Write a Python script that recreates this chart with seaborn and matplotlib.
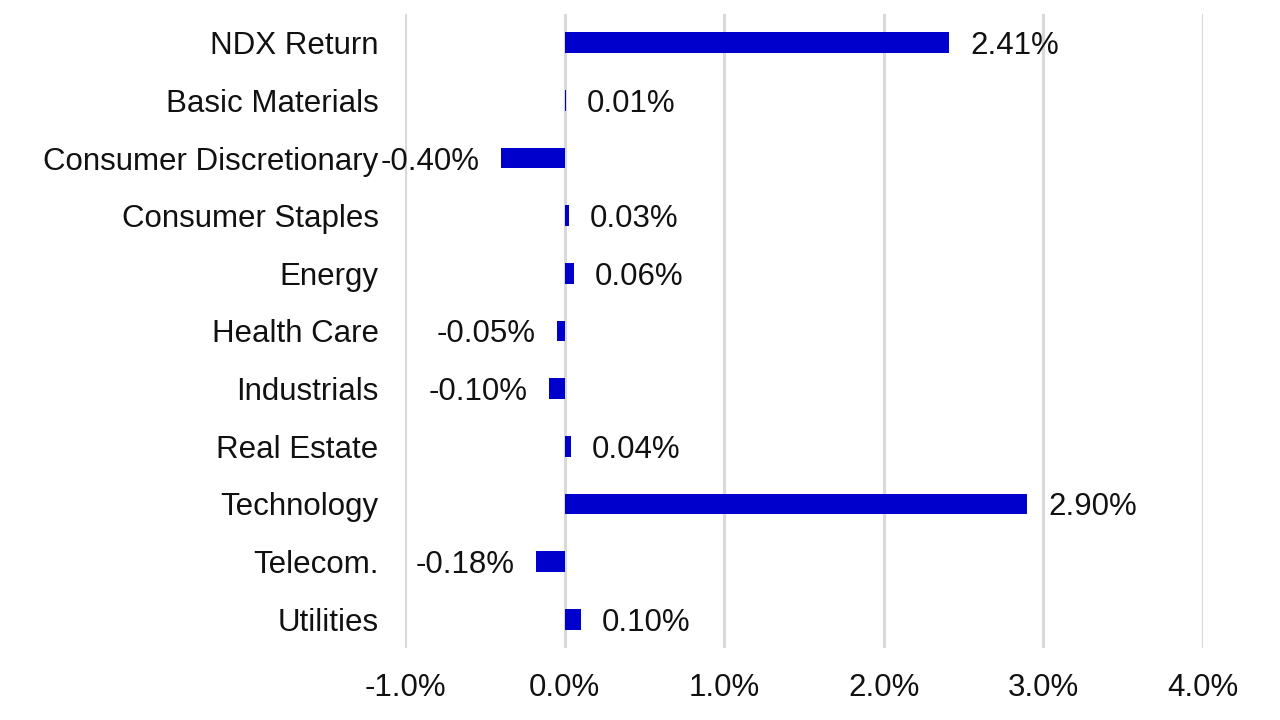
import numpy as np
import pandas as pd
import matplotlib as mpl
mpl.use('Agg')
import seaborn as sns
import matplotlib.pyplot as plt
from matplotlib.ticker import MultipleLocator, FuncFormatter

sectors = ["NDX Return", "Basic Materials", "Consumer Discretionary", "Consumer Staples",
           "Energy", "Health Care", "Industrials", "Real Estate", "Technology",
           "Telecom.", "Utilities"]
returns = [2.41, 0.01, -0.40, 0.03, 0.06, -0.05, -0.10, 0.04, 2.90, -0.18, 0.10]

sns.set_style("white")
plt.rcParams['font.family'] = ['Liberation Sans', 'DejaVu Sans']

df = pd.DataFrame({"sector": sectors, "ret": returns})

fig = plt.figure(figsize=(12.8, 7.2), dpi=100)
ax = fig.add_axes([405 / 1280, 0.1, (1203 - 405) / 1280, 1 - 0.1 - 14 / 720])

sns.barplot(data=df, y="sector", x="ret", orient="h", color="#0000CC",
            saturation=1, width=0.36, linewidth=0, ax=ax, zorder=3)

for c in ax.containers:
    labs = ax.bar_label(c, labels=[f"{v:.2f}%" for v in returns], padding=15,
                        fontsize=22.5, color="#111111")
    for t in labs:
        t.set_va("center_baseline")

ax.set_xlim(-1, 4)
ax.set_ylim(len(sectors) - 0.5, -0.5)
ax.xaxis.set_major_locator(MultipleLocator(1))
ax.xaxis.set_major_formatter(FuncFormatter(lambda v, p: f"{v:.1f}%"))
ax.grid(axis="x", color="#D9D9D9", linewidth=2.2, zorder=0)
ax.grid(axis="y", visible=False)
for s in ax.spines.values():
    s.set_visible(False)
ax.tick_params(axis="y", length=0, pad=19, labelsize=22.5, labelcolor="#111111")
ax.tick_params(axis="x", length=0, pad=18, labelsize=22.5, labelcolor="#111111")
ax.set_xlabel("")
ax.set_ylabel("")

fig.savefig("out.png", dpi=100)
